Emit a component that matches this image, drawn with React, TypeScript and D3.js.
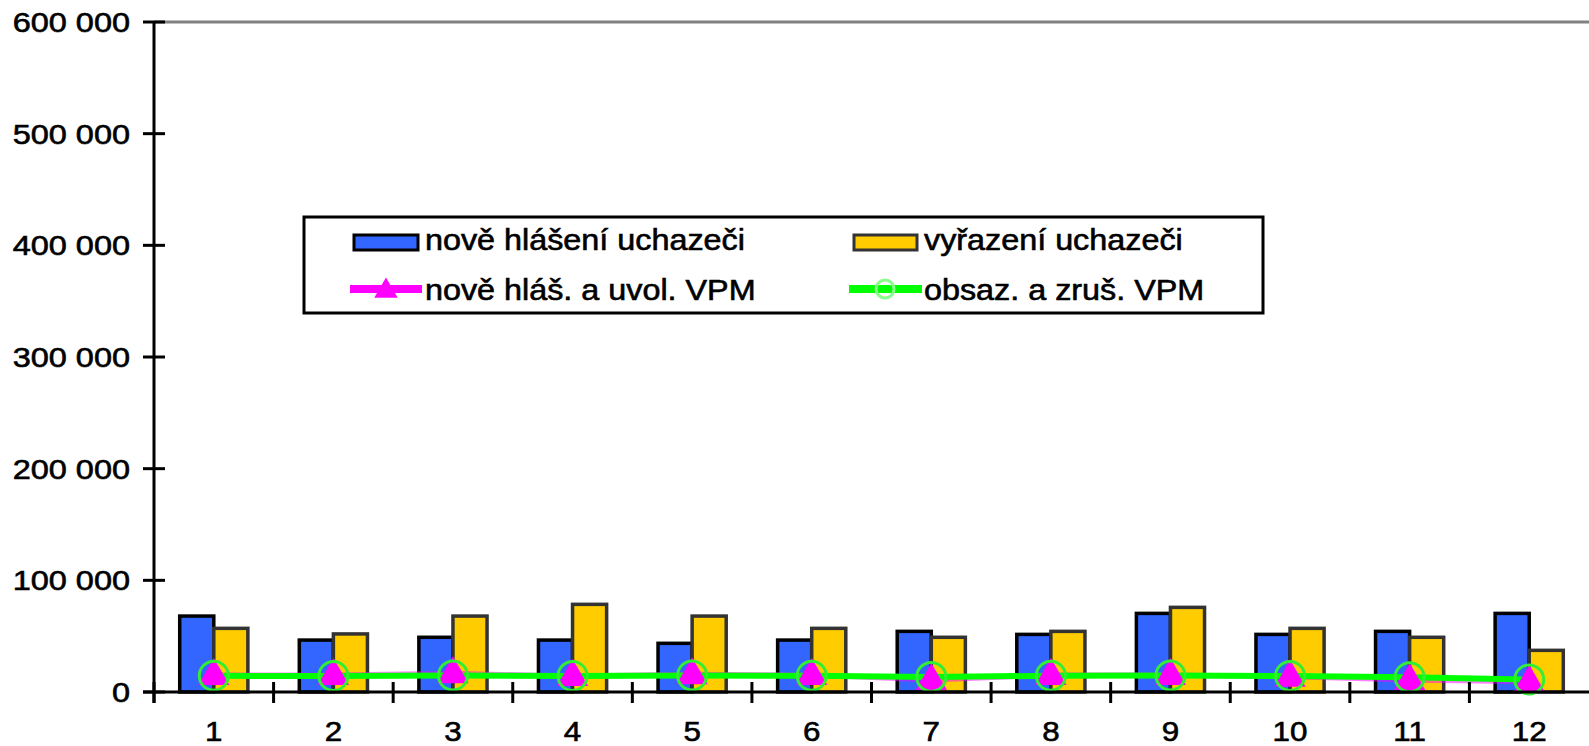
import React from "react";
import * as d3 from "d3";

const categories = ["1", "2", "3", "4", "5", "6", "7", "8", "9", "10", "11", "12"];
const noveHlaseni = [68000, 46500, 49000, 46500, 43600, 46500, 54300, 51600, 70400, 51600, 54300, 70400];
const vyrazeni = [57000, 52000, 68000, 78500, 68000, 57000, 49000, 54300, 75800, 57000, 49000, 37300];
const noveVPM = [15200, 15200, 16700, 14300, 15800, 15200, 10700, 15200, 15200, 13700, 10700, 9200];
const obsazVPM = [14500, 14300, 14800, 14300, 14800, 14500, 13500, 14500, 14800, 14300, 13200, 11200];
const yTicks = [0, 100000, 200000, 300000, 400000, 500000, 600000];
const legendLabels = ["nově hlášení uchazeči", "vyřazení uchazeči", "nově hláš. a uvol. VPM", "obsaz. a zruš. VPM"];

const W = 1589;
const H = 746;
const FONT = "'Liberation Sans', Arial, sans-serif";

const fmt = (v: number) => {
  const s = String(v);
  return s.replace(/\B(?=(\d{3})+(?!\d))/g, " ");
};

const textStyle = { stroke: "#000", strokeWidth: 0.6 } as const;

export default function App() {
  const y = d3.scaleLinear().domain([0, 600000]).range([692, 22]);
  const x = d3.scaleBand<string>().domain(categories).range([154, 1589]).paddingInner(0.43).paddingOuter(0.215);
  const x1 = d3.scaleBand<string>().domain(["a", "b"]).range([0, x.bandwidth()]);
  const step = x.step();
  const cx = (c: string) => (x(c) as number) + x.bandwidth() / 2;

  const line = d3
    .line<number>()
    .x((_, i) => cx(categories[i]))
    .y((d) => y(d));

  const tri = d3.symbol().type(d3.symbolTriangle).size(420)();
  const triLegend = d3.symbol().type(d3.symbolTriangle).size(240)();

  const axisY0 = y(0);

  return (
    <div style={{ position: "fixed", left: 0, top: 0, width: W, height: H, background: "#fff" }}>
      <svg width={W} height={H} style={{ display: "block" }} fontFamily={FONT}>
        <rect x={0} y={0} width={W} height={H} fill="#fff" />
        {/* top border line */}
        <line x1={154} x2={W} y1={y(600000)} y2={y(600000)} stroke="#808080" strokeWidth={3} />

        {/* bars */}
        {categories.map((c, i) => (
          <g key={c}>
            <rect
              x={(x(c) as number) + (x1("a") as number)}
              y={y(noveHlaseni[i])}
              width={x1.bandwidth()}
              height={axisY0 - y(noveHlaseni[i])}
              fill="#3366FF"
              stroke="#000"
              strokeWidth={3.5}
            />
            <rect
              x={(x(c) as number) + (x1("b") as number)}
              y={y(vyrazeni[i])}
              width={x1.bandwidth()}
              height={axisY0 - y(vyrazeni[i])}
              fill="#FFCC00"
              stroke="#333"
              strokeWidth={3.5}
            />
          </g>
        ))}

        {/* lines */}
        <path d={line(noveVPM) || ""} fill="none" stroke="#FF00FF" strokeWidth={5} strokeOpacity={0.5} />
        <path d={line(obsazVPM) || ""} fill="none" stroke="#00FF00" strokeWidth={6} />
        {noveVPM.map((v, i) => (
          <path key={"t" + i} d={tri || ""} transform={`translate(${cx(categories[i])},${y(v) + 1})`} fill="#FF00FF" />
        ))}
        {obsazVPM.map((v, i) => (
          <circle key={"c" + i} cx={cx(categories[i])} cy={y(v)} r={14.5} fill="none" stroke="#33EE33" strokeWidth={3} />
        ))}

        {/* axes */}
        <line x1={154} x2={154} y1={22} y2={703} stroke="#000" strokeWidth={3} />
        <line x1={143} x2={W} y1={axisY0} y2={axisY0} stroke="#000" strokeWidth={3} />
        {yTicks.map((t) => (
          <g key={t}>
            <line x1={143} x2={165} y1={y(t)} y2={y(t)} stroke="#000" strokeWidth={3} />
            <text
              transform={`translate(130,${y(t) + 10}) scale(1.16,1)`}
              textAnchor="end"
              fontSize={28}
              fill="#000"
              style={textStyle}
            >
              {fmt(t)}
            </text>
          </g>
        ))}
        {categories.map((c, i) => (
          <g key={"xt" + c}>
            <line x1={154 + step * i} x2={154 + step * i} y1={682} y2={703} stroke="#000" strokeWidth={3} />
            <text
              transform={`translate(${cx(c)},741) scale(1.12,1)`}
              textAnchor="middle"
              fontSize={28}
              fill="#000"
              style={textStyle}
            >
              {c}
            </text>
          </g>
        ))}

        {/* legend */}
        <rect x={304} y={217} width={959} height={96} fill="#fff" stroke="#000" strokeWidth={3} />
        <rect x={354} y={235} width={64} height={15} fill="#3366FF" stroke="#000" strokeWidth={3} />
        <text transform="translate(425,250) scale(1.115,1)" fontSize={29} fill="#000" style={textStyle}>{legendLabels[0]}</text>
        <rect x={854} y={235} width={63} height={15} fill="#FFCC00" stroke="#333" strokeWidth={3} />
        <text transform="translate(924,250) scale(1.115,1)" fontSize={29} fill="#000" style={textStyle}>{legendLabels[1]}</text>
        <line x1={350} x2={422} y1={289} y2={289} stroke="#FF00FF" strokeWidth={8} />
        <path d={triLegend || ""} transform="translate(386,291)" fill="#FF00FF" />
        <text transform="translate(425,300) scale(1.115,1)" fontSize={29} fill="#000" style={textStyle}>{legendLabels[2]}</text>
        <line x1={849} x2={922} y1={289} y2={289} stroke="#00FF00" strokeWidth={8} />
        <circle cx={885} cy={289} r={9} fill="none" stroke="#88FF88" strokeWidth={3} />
        <text transform="translate(924,300) scale(1.115,1)" fontSize={29} fill="#000" style={textStyle}>{legendLabels[3]}</text>
      </svg>
    </div>
  );
}
